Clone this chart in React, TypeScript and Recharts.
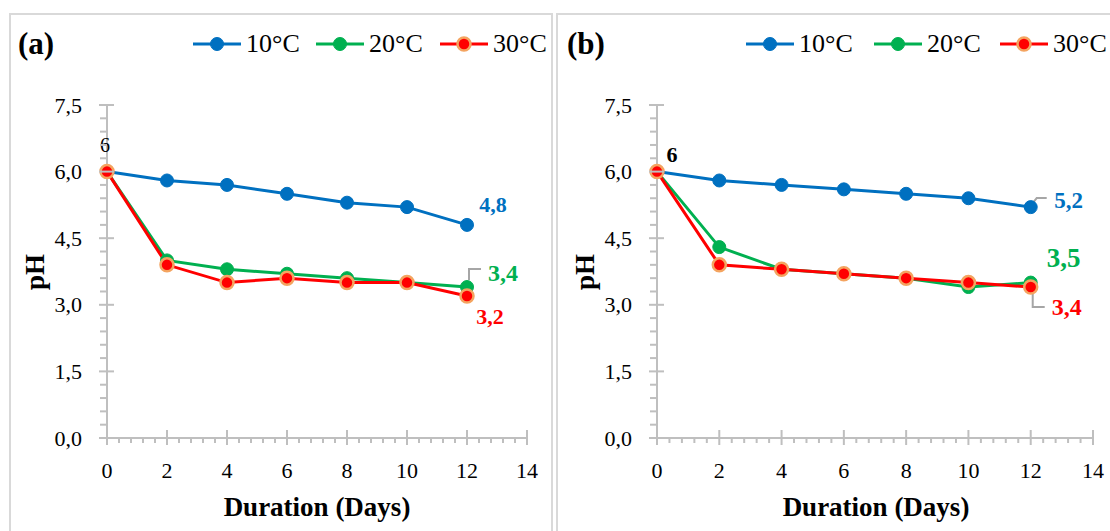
import React from 'react';
import { LineChart, Line, XAxis, YAxis } from 'recharts';

// ---- data ----
const days = [0, 2, 4, 6, 8, 10, 12];
const seriesNames = ['10°C', '20°C', '30°C'];
const phA10 = [6.0, 5.8, 5.7, 5.5, 5.3, 5.2, 4.8];
const phA20 = [6.0, 4.0, 3.8, 3.7, 3.6, 3.5, 3.4];
const phA30 = [6.0, 3.9, 3.5, 3.6, 3.5, 3.5, 3.2];
const phB10 = [6.0, 5.8, 5.7, 5.6, 5.5, 5.4, 5.2];
const phB20 = [6.0, 4.3, 3.8, 3.7, 3.6, 3.4, 3.5];
const phB30 = [6.0, 3.9, 3.8, 3.7, 3.6, 3.5, 3.4];
const xMajorTicks = [0, 2, 4, 6, 8, 10, 12, 14];
const yMajorTicks = [0, 1.5, 3, 4.5, 6, 7.5];

// ---- style ----
const FONT = "'Liberation Serif', 'DejaVu Serif', 'Times New Roman', Times, serif";
const AXIS = '#BFBFBF';
const COLORS = ['#0070C0', '#00B050', '#FF0000'];
const RING30 = '#F4A460';
const LEADER = '#A6A6A6';

function buildMinor(majors: number[], parts: number) {
  const out: number[] = [];
  for (let i = 0; i < majors.length - 1; i++) {
    for (let k = 0; k < parts; k++) {
      out.push(+(majors[i] + ((majors[i + 1] - majors[i]) * k) / parts).toFixed(4));
    }
  }
  out.push(majors[majors.length - 1]);
  return out;
}
const xAllTicks = buildMinor(xMajorTicks, 5);
const yAllTicks = buildMinor(yMajorTicks, 5);
const isMajor = (v: number, majors: number[]) => majors.some((m) => Math.abs(m - v) < 1e-6);
const fmt = (v: number) => (Number.isInteger(v) ? String(v) : v.toFixed(1).replace('.', ','));
const fmtY = (v: number) => v.toFixed(1).replace('.', ',');

const XTick = (props: any) => {
  const { x, y, payload } = props;
  const v = payload.value;
  if (isMajor(v, xMajorTicks)) {
    return (
      <g>
        <line x1={x} x2={x} y1={y - 8} y2={y + 7} stroke={AXIS} strokeWidth={2} />
        <text x={x} y={y + 32} textAnchor="middle" dominantBaseline="central" fontSize={22} style={{ fontFamily: FONT }} fill="#000">
          {v}
        </text>
      </g>
    );
  }
  return <line x1={x} x2={x} y1={y} y2={y + 5} stroke={AXIS} strokeWidth={2} />;
};

const YTick = (props: any) => {
  const { x, y, payload } = props;
  const v = payload.value;
  if (isMajor(v, yMajorTicks)) {
    return (
      <g>
        <line x1={x - 8} x2={x + 7} y1={y} y2={y} stroke={AXIS} strokeWidth={2} />
        <text x={x - 25} y={y} textAnchor="end" dominantBaseline="central" fontSize={22} style={{ fontFamily: FONT }} fill="#000">
          {fmtY(v)}
        </text>
      </g>
    );
  }
  return <line x1={x - 7} x2={x} y1={y} y2={y} stroke={AXIS} strokeWidth={2} />;
};

type Ann = { s: number; i: number; dx: number; dy: number; color: string; size: number; bold: boolean; leader?: number[][] };
const annA: Ann[] = [
  { s: 0, i: 0, dx: -2, dy: -27, color: '#000', size: 20, bold: false },
  { s: 0, i: 6, dx: 26, dy: -20, color: COLORS[0], size: 22, bold: true },
  { s: 1, i: 6, dx: 36, dy: -14, color: COLORS[1], size: 24, bold: true, leader: [[2, -7], [2, -18], [14, -18]] },
  { s: 2, i: 6, dx: 23, dy: 21, color: COLORS[2], size: 22, bold: true },
];
const annB: Ann[] = [
  { s: 0, i: 0, dx: 15, dy: -17, color: '#000', size: 22, bold: true },
  { s: 0, i: 6, dx: 38, dy: -7, color: COLORS[0], size: 23, bold: true, leader: [[2, -4], [6, -9], [16, -9]] },
  { s: 1, i: 6, dx: 33, dy: -25, color: COLORS[1], size: 27, bold: true },
  { s: 2, i: 6, dx: 36, dy: 20, color: COLORS[2], size: 24, bold: true, leader: [[2, 6], [2, 20], [14, 20]] },
];

const makeDot = (s: number, ann: Ann[]) => (p: any) => {
  const { cx, cy, index, payload } = p;
  const v = payload[`s${s}`];
  const a = ann.find((q) => q.s === s && q.i === index);
  return (
    <g key={`d${s}-${index}`}>
      {a && a.leader && (
        <polyline
          points={a.leader.map(([lx, ly]) => `${cx + lx},${cy + ly}`).join(' ')}
          fill="none"
          stroke={LEADER}
          strokeWidth={2}
        />
      )}
      <circle cx={cx} cy={cy} r={6.5} fill={COLORS[s]} stroke={s === 2 ? RING30 : COLORS[s]} strokeWidth={s === 2 ? 2.5 : 1} />
      {a && (
        <text
          x={cx + a.dx}
          y={cy + a.dy}
          textAnchor="middle"
          dominantBaseline="central"
          fontSize={a.size}
          fontWeight={a.bold ? 'bold' : 'normal'}
          style={{ fontFamily: FONT }}
          fill={a.color}
        >
          {fmt(v)}
        </text>
      )}
    </g>
  );
};

function Chart({ left, width, rightMargin, s0, s1, s2, ann }: any) {
  const rows = days.map((d, i) => ({ day: d, s0: s0[i], s1: s1[i], s2: s2[i] }));
  return (
    <div style={{ position: 'absolute', left, top: 0 }}>
      <LineChart width={width} height={531} data={rows} margin={{ top: 105, right: rightMargin, bottom: 0, left: 0 }}>
        <XAxis
          dataKey="day"
          type="number"
          domain={[0, 14]}
          ticks={xAllTicks}
          interval={0}
          tickLine={false}
          tickSize={0}
          tickMargin={0}
          height={93}
          axisLine={{ stroke: AXIS, strokeWidth: 2 }}
          tick={XTick}
        />
        <YAxis
          type="number"
          domain={[0, 7.5]}
          ticks={yAllTicks}
          interval={0}
          tickLine={false}
          tickSize={0}
          tickMargin={0}
          width={107}
          axisLine={{ stroke: AXIS, strokeWidth: 2 }}
          tick={YTick}
        />
        {[0, 1, 2].map((s) => (
          <Line
            key={s}
            type="linear"
            dataKey={`s${s}`}
            name={seriesNames[s]}
            stroke={COLORS[s]}
            strokeWidth={3}
            dot={makeDot(s, ann)}
            activeDot={false}
            isAnimationActive={false}
          />
        ))}
      </LineChart>
    </div>
  );
}

function LegendRow({ starts }: { starts: number[] }) {
  return (
    <>
      {starts.map((x0, s) => (
        <div key={s} style={{ position: 'absolute', left: x0, top: 29, height: 30, display: 'flex', alignItems: 'center' }}>
          <svg width={48} height={30} style={{ display: 'block' }}>
            <line x1={0} x2={48} y1={15} y2={15} stroke={COLORS[s]} strokeWidth={3} />
            <circle cx={24} cy={15} r={6.5} fill={COLORS[s]} stroke={s === 2 ? RING30 : COLORS[s]} strokeWidth={s === 2 ? 2.5 : 1} />
          </svg>
          <span style={{ marginLeft: 5, fontFamily: FONT, fontSize: 26, lineHeight: '30px', color: '#000', whiteSpace: 'nowrap' }}>
            {seriesNames[s]}
          </span>
        </div>
      ))}
    </>
  );
}

const textAbs = (cx: number, cy: number, w: number, extra: any = {}) => ({
  position: 'absolute' as const,
  left: cx - w / 2,
  top: cy - 15,
  width: w,
  height: 30,
  lineHeight: '30px',
  textAlign: 'center' as const,
  fontFamily: FONT,
  whiteSpace: 'nowrap' as const,
  color: '#000',
  ...extra,
});

export default function App() {
  return (
    <div style={{ position: 'absolute', left: 0, top: 0, width: 1110, height: 531, overflow: 'hidden', background: '#fff', fontFamily: FONT }}>
      <div style={{ position: 'absolute', left: 9, top: 13, width: 544, height: 600, border: '2px solid #D9D9D9', boxSizing: 'border-box' }} />
      <div style={{ position: 'absolute', left: 556, top: 13, width: 600, height: 600, border: '2px solid #D9D9D9', boxSizing: 'border-box' }} />

      <Chart left={0} width={555} rightMargin={28} s0={phA10} s1={phA20} s2={phA30} ann={annA} />
      <Chart left={550} width={560} rightMargin={17} s0={phB10} s1={phB20} s2={phB30} ann={annB} />

      <div style={{ position: 'absolute', left: 18, top: 27, fontFamily: FONT, fontSize: 31, fontWeight: 'bold', lineHeight: '34px' }}>(a)</div>
      <div style={{ position: 'absolute', left: 567, top: 27, fontFamily: FONT, fontSize: 31, fontWeight: 'bold', lineHeight: '34px' }}>(b)</div>

      <LegendRow starts={[193, 316, 440]} />
      <LegendRow starts={[746, 874, 1000]} />

      <div style={textAbs(317, 507, 320, { fontSize: 27, fontWeight: 'bold' })}>Duration (Days)</div>
      <div style={textAbs(876, 507, 320, { fontSize: 27, fontWeight: 'bold' })}>Duration (Days)</div>
      <div style={textAbs(35, 272, 60, { fontSize: 27, fontWeight: 'bold', transform: 'rotate(-90deg)' })}>pH</div>
      <div style={textAbs(585, 272, 60, { fontSize: 27, fontWeight: 'bold', transform: 'rotate(-90deg)' })}>pH</div>
    </div>
  );
}
